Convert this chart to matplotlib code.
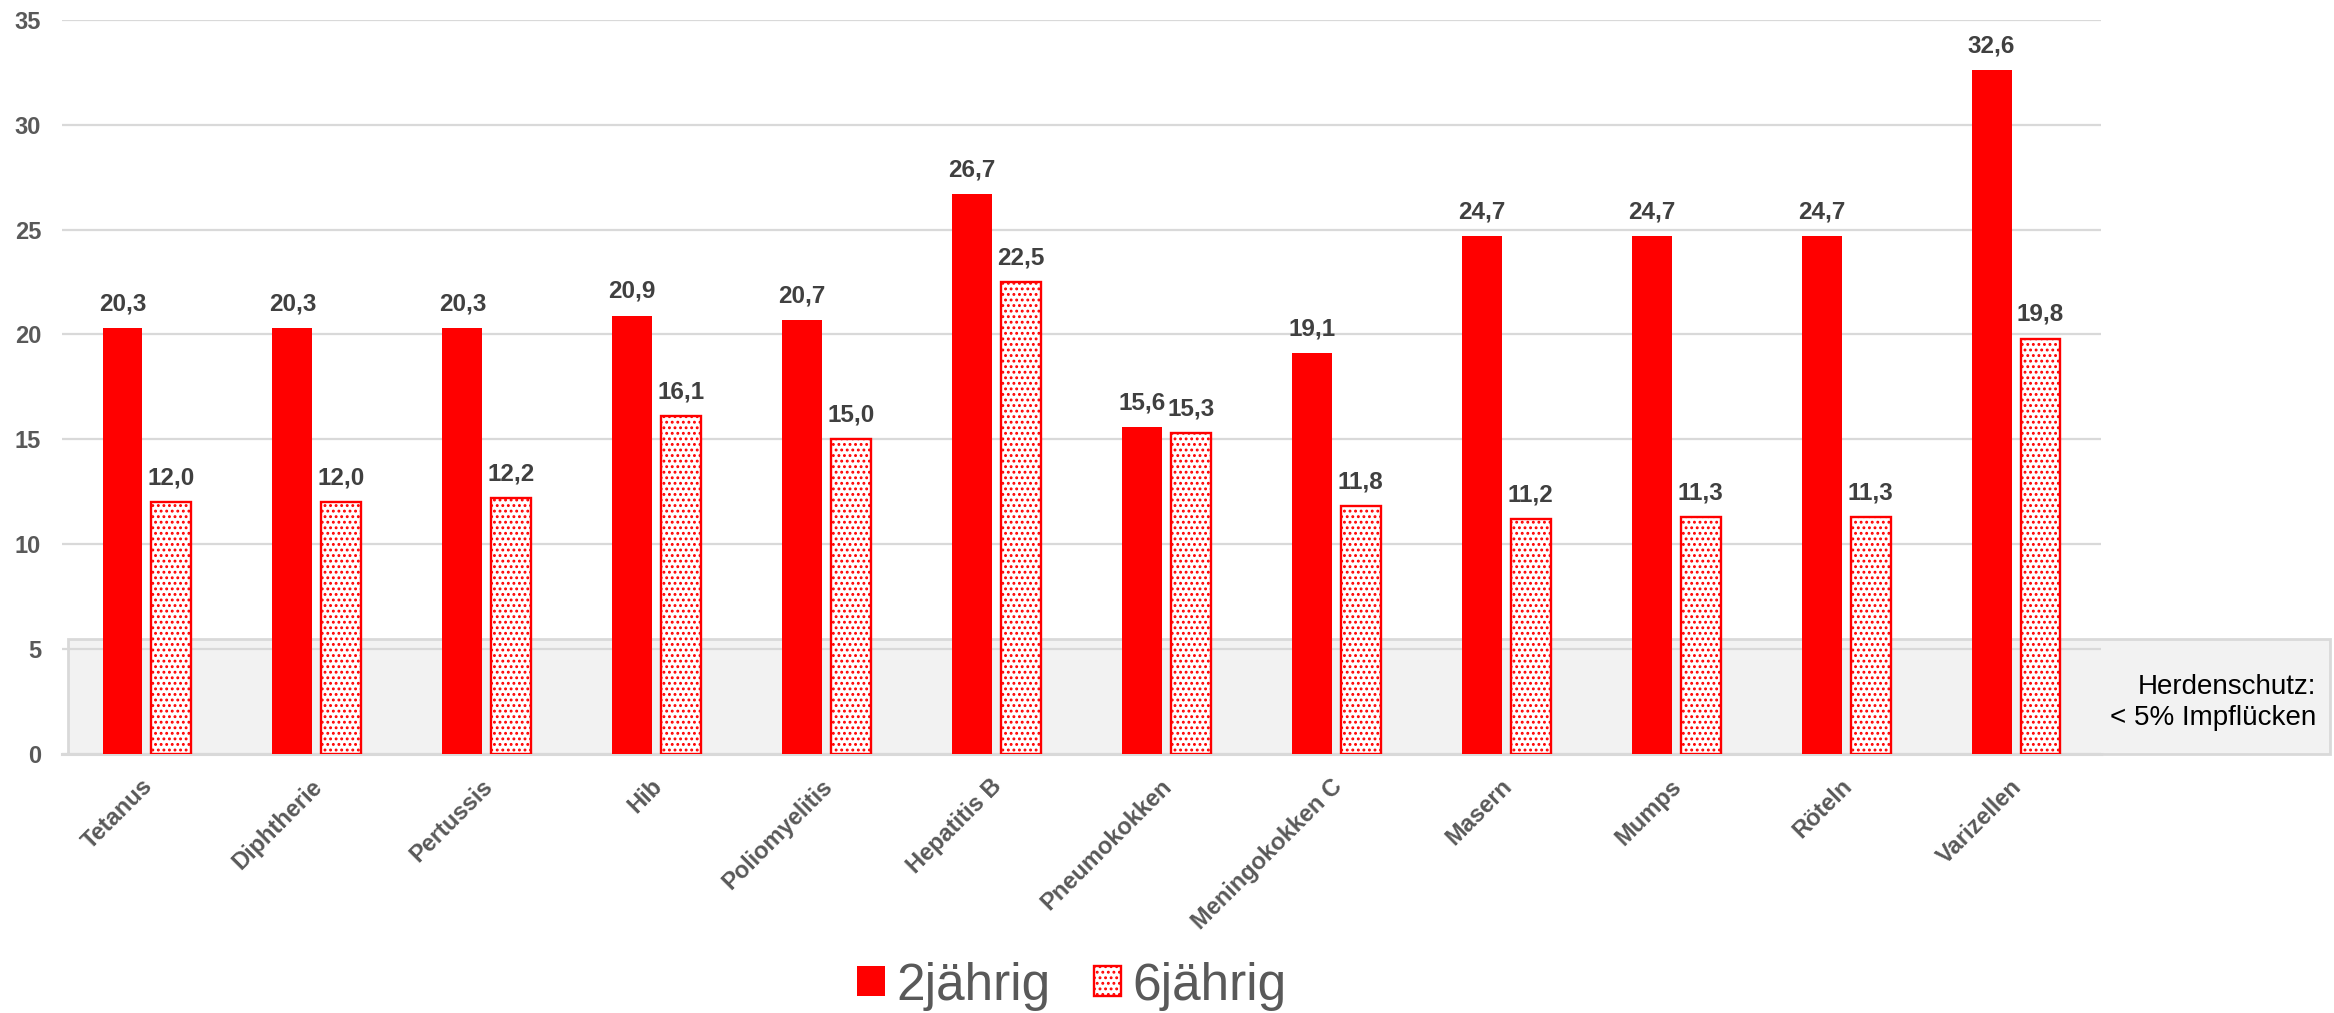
import matplotlib
matplotlib.use("Agg")
import matplotlib.pyplot as plt
import matplotlib.transforms as mtransforms
from matplotlib.patches import Rectangle
import numpy as np

plt.rcParams['font.family'] = ['Liberation Sans', 'DejaVu Sans']
plt.rcParams['hatch.linewidth'] = 1.3

# ---- data ----
categories = ["Tetanus", "Diphtherie", "Pertussis", "Hib", "Poliomyelitis", "Hepatitis B",
              "Pneumokokken", "Meningokokken C", "Masern", "Mumps", "Röteln", "Varizellen"]
vals_2j = [20.3, 20.3, 20.3, 20.9, 20.7, 26.7, 15.6, 19.1, 24.7, 24.7, 24.7, 32.6]
vals_6j = [12.0, 12.0, 12.2, 16.1, 15.0, 22.5, 15.3, 11.8, 11.2, 11.3, 11.3, 19.8]
series_names = ["2jährig", "6jährig"]
yticks = [0, 5, 10, 15, 20, 25, 30, 35]
herd_threshold = 5.5
herd_text = "Herdenschutz:\n< 5% Impflücken"

RED = "#FF0000"
GRID = "#D9D9D9"
TXT = "#595959"
LBL = "#404040"

W, H = 2334, 1013
fig = plt.figure(figsize=(W / 100, H / 100), dpi=100)
ax = fig.add_axes([62 / W, 1 - 754 / H, (2101 - 62) / W, (754 - 19.7) / H])

x = np.arange(len(categories))
bw = 0.235
off = 0.144

b1 = ax.bar(x - off, vals_2j, width=bw, color=RED, edgecolor=RED, linewidth=0, zorder=3,
            label=series_names[0])
b2 = ax.bar(x + off, vals_6j, width=bw, color="white", edgecolor=RED, linewidth=1.7,
            hatch="...", zorder=3, label=series_names[1])

def fmt(v):
    return f"{v:.1f}".replace(".", ",")

for bars, vals in ((b1, vals_2j), (b2, vals_6j)):
    for rect, v in zip(bars, vals):
        ax.annotate(fmt(v), (rect.get_x() + rect.get_width() / 2, v),
                    xytext=(0, 12.7), textcoords="offset points",
                    ha="center", va="baseline", fontsize=17.5, fontweight="bold",
                    color=LBL, zorder=5)

# herd immunity box (extends beyond the axes to the right)
box = Rectangle((-0.5 + 6 / 169.9, 0), 12.85 - (-0.5 + 6 / 169.9), herd_threshold,
                facecolor="#F2F2F2", edgecolor=GRID, linewidth=2.0, zorder=0.2,
                clip_on=False, transform=ax.transData)
ax.add_patch(box)
ax.text(12.765, 2.45, herd_text, ha="right", va="center", fontsize=20, color="black",
        linespacing=1.25, zorder=4, clip_on=False)

ax.set_xlim(-0.5, len(categories) - 0.5)
ax.set_ylim(0, 35)
ax.set_yticks(yticks)
ax.set_yticklabels([str(t) for t in yticks], fontsize=17, fontweight="bold", color=TXT)
ax.set_xticks(x)
ax.set_xticklabels(categories, rotation=45, ha="right", va="top", rotation_mode="anchor",
                   fontsize=17, fontweight="bold", color=TXT)
ax.tick_params(axis="y", length=0, pad=15)
ax.tick_params(axis="x", length=0, pad=15)
shift = mtransforms.ScaledTranslation(-6 / 100, 0, fig.dpi_scale_trans)
for lab in ax.get_xticklabels():
    lab.set_transform(lab.get_transform() + shift)

ax.set_axisbelow(True)
ax.yaxis.grid(True, color=GRID, linewidth=1.6, zorder=0.5)
for s in ("top", "right", "left"):
    ax.spines[s].set_visible(False)
ax.spines["bottom"].set_color(GRID)
ax.spines["bottom"].set_linewidth(2.2)
ax.spines["bottom"].set_zorder(0.6)
ax.patch.set_visible(False)

leg = fig.legend(handles=[b1, b2], labels=series_names, loc="center", ncol=2,
                 bbox_to_anchor=(1072 / W, 1 - 986 / H), frameon=False, fontsize=37,
                 handlelength=0.53, handleheight=0.53, handletextpad=0.22,
                 columnspacing=0.85, labelcolor=TXT)

fig.savefig("out.png", dpi=100)
